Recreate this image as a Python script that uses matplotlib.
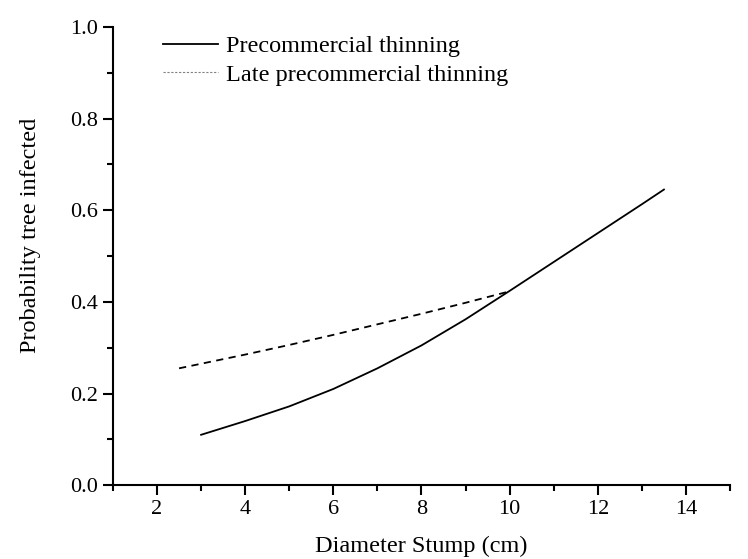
import matplotlib.pyplot as plt
from matplotlib.lines import Line2D
from matplotlib.ticker import MultipleLocator

plt.rcParams['font.family'] = ['Liberation Serif', 'DejaVu Serif']

# values
pct_x = [3, 4, 5, 6, 7, 8, 9, 10, 11, 12, 13, 13.5]
pct_y = [0.110, 0.140, 0.172, 0.210, 0.255, 0.305, 0.362, 0.424, 0.487, 0.550, 0.613, 0.645]

late_x = [2.5, 3, 4, 5, 6, 7, 8, 9, 10]
late_y = [0.255, 0.265, 0.285, 0.306, 0.328, 0.351, 0.374, 0.398, 0.423]

fig = plt.figure(figsize=(7.48, 5.59), dpi=100)
ax = fig.add_axes([0.151, 0.132, 0.825, 0.820])

ax.plot(pct_x, pct_y, color="black", lw=1.3)
ax.plot(late_x, late_y, color="black", lw=1.3, linestyle=(0, (4, 3)))

ax.set_xlim(1, 15)
ax.set_ylim(0, 1.0)
ax.xaxis.set_major_locator(MultipleLocator(2))
ax.xaxis.set_minor_locator(MultipleLocator(1))
ax.yaxis.set_major_locator(MultipleLocator(0.2))
ax.yaxis.set_minor_locator(MultipleLocator(0.1))
ax.yaxis.set_major_formatter(plt.FormatStrFormatter("%.1f"))

for s in ["top", "right"]:
    ax.spines[s].set_visible(False)
for s in ["left", "bottom"]:
    ax.spines[s].set_linewidth(1.5)
ax.tick_params(which="major", direction="out", length=7, width=1.5, labelsize=16, pad=4)
ax.tick_params(which="minor", direction="out", length=4, width=1.5)

ax.set_xlabel("Diameter Stump (cm)", fontsize=17.5, labelpad=12)
ax.set_ylabel("Probability tree infected", fontsize=17.5)
ax.yaxis.set_label_coords(-0.117, 0.544)

handles = [
    Line2D([], [], color="black", lw=1.3),
    Line2D([], [], color="gray", lw=0.8, linestyle=(0, (2, 1.5))),
]
ax.legend(handles, ["Precommercial thinning", "Late precommercial thinning"],
          loc="upper left", bbox_to_anchor=(0.045, 1.029), frameon=False,
          fontsize=17.5, handlelength=2.3, handletextpad=0.3, labelspacing=0.27)

fig.savefig("out.png", dpi=100)
